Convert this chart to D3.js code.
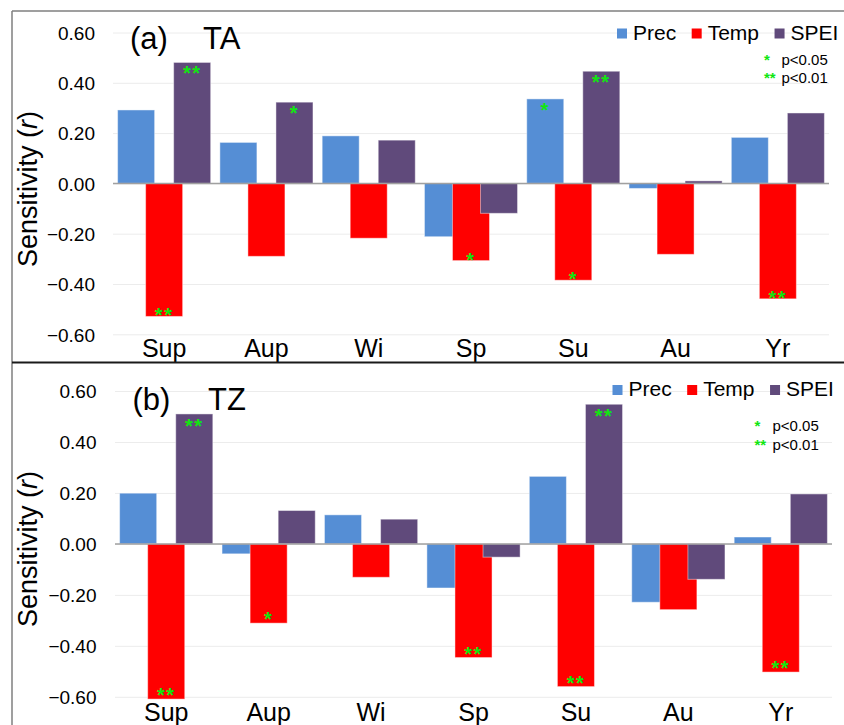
<!DOCTYPE html>
<html>
<head>
<meta charset="utf-8">
<script src="https://cdn.jsdelivr.net/npm/d3@7/dist/d3.min.js"></script>
<style>
  html, body { margin: 0; padding: 0; background: #fff; }
  svg { display: block; font-family: "Liberation Sans", Arial, sans-serif; }
</style>
</head>
<body>
<svg id="chart" width="844" height="725"></svg>
<script>
// ---------------- data ----------------
const categories = ["Sup", "Aup", "Wi", "Sp", "Su", "Au", "Yr"];
const seriesNames = ["Prec", "Temp", "SPEI"];
const seriesColors = ["#558ED5", "#FF0000", "#604A7B"];
const yTicks = [0.6, 0.4, 0.2, 0.0, -0.2, -0.4, -0.6];

// (a) TA
const taPrec = [0.292, 0.163, 0.189, -0.212, 0.336, -0.020, 0.183];
const taTemp = [-0.529, -0.290, -0.218, -0.307, -0.385, -0.282, -0.459];
const taSpei = [0.481, 0.323, 0.172, -0.119, 0.446, 0.010, 0.280];
const taPrecSig = ["", "", "", "", "*", "", ""];
const taTempSig = ["**", "", "", "*", "*", "", "**"];
const taSpeiSig = ["**", "*", "", "", "**", "", ""];

// (b) TZ
const tzPrec = [0.199, -0.039, 0.114, -0.173, 0.265, -0.229, 0.027];
const tzTemp = [-0.609, -0.311, -0.131, -0.446, -0.560, -0.258, -0.503];
const tzSpei = [0.510, 0.131, 0.097, -0.052, 0.548, -0.139, 0.196];
const tzPrecSig = ["", "", "", "", "", "", ""];
const tzTempSig = ["**", "*", "", "**", "**", "", "**"];
const tzSpeiSig = ["**", "", "", "", "**", "", ""];

const sigLegend = [["*", "p<0.05"], ["**", "p<0.01"]];

// ---------------- layout ----------------
const svg = d3.select("#chart");
const FONT = '"Liberation Sans", Arial, sans-serif';
const GREEN = "#11e611";

const panels = [
  {
    tag: "(a)", name: "TA",
    series: [taPrec, taTemp, taSpei],
    sig: [taPrecSig, taTempSig, taSpeiSig],
    xRange: [113, 829], yRange: [334.3, 32.5],
    tagX: 130, nameX: 203, titleY: 49,
    catY: 356.5, tickX: 95, axisTitleY: 189,
    legendX: 617, legendY: 39.5,
    sigX: 764, sigTextX: 781.5, sigY: [65, 83],
    starPos: 18, starNeg: 6
  },
  {
    tag: "(b)", name: "TZ",
    series: [tzPrec, tzTemp, tzSpei],
    sig: [tzPrecSig, tzTempSig, tzSpeiSig],
    xRange: [115, 832], yRange: [696.8, 391],
    tagX: 132.5, nameX: 208, titleY: 409.5,
    catY: 721, tickX: 96.5, axisTitleY: 549,
    legendX: 612.5, legendY: 396,
    sigX: 754.5, sigTextX: 772.5, sigY: [431, 450],
    starPos: 19, starNeg: 3
  }
];

// frame
svg.append("line").attr("x1", 12).attr("x2", 12).attr("y1", 11).attr("y2", 725)
  .attr("stroke", "#7f7f7f").attr("stroke-width", 1.5);
svg.append("line").attr("x1", 12).attr("x2", 844).attr("y1", 11).attr("y2", 11)
  .attr("stroke", "#7f7f7f").attr("stroke-width", 1.5);

panels.forEach(p => {
  const g = svg.append("g");
  const x = d3.scaleBand().domain(categories).range(p.xRange).paddingInner(0).paddingOuter(0);
  const y = d3.scaleLinear().domain([-0.6, 0.6]).range(p.yRange);
  const bw = x.bandwidth();
  const barW = bw * 0.362;
  const step = bw * 0.274;
  const groupW = barW + 2 * step;
  const barX = (cat, i) => x(cat) + bw / 2 - groupW / 2 + i * step;

  // gridlines
  const yAxis = d3.axisLeft(y).tickValues(yTicks).tickSize(-(p.xRange[1] - p.xRange[0]))
    .tickFormat(d3.format(".2f"));
  const ax = g.append("g").attr("transform", `translate(${p.xRange[0]},0)`).call(yAxis);
  ax.select(".domain").remove();
  ax.selectAll(".tick line").attr("stroke", "#ececec").attr("stroke-width", 1);
  ax.selectAll(".tick text")
    .attr("x", p.tickX - p.xRange[0]).attr("dy", "0.36em")
    .attr("text-anchor", "end")
    .style("font-family", FONT).style("font-size", "19px").attr("fill", "#000");

  // bars
  p.series.forEach((vals, si) => {
    g.append("g").selectAll("rect").data(categories).join("rect")
      .attr("x", (c) => barX(c, si))
      .attr("width", barW)
      .attr("y", (c, k) => y(Math.max(0, vals[k])))
      .attr("height", (c, k) => Math.abs(y(vals[k]) - y(0)))
      .attr("fill", seriesColors[si])
      .attr("stroke", "#ffffff").attr("stroke-opacity", 0.45).attr("stroke-width", 1);
  });

  // zero line
  g.append("line").attr("x1", p.xRange[0]).attr("x2", p.xRange[1])
    .attr("y1", y(0)).attr("y2", y(0)).attr("stroke", "#a0a0a0").attr("stroke-width", 1.5);

  // significance stars
  p.series.forEach((vals, si) => {
    g.append("g").selectAll("text").data(categories.filter((c, k) => p.sig[si][k] !== ""))
      .join("text")
      .attr("x", c => barX(c, si) + barW / 2)
      .attr("y", c => {
        const k = categories.indexOf(c);
        const v = vals[k];
        return v >= 0 ? y(v) + p.starPos : y(v) + p.starNeg;
      })
      .attr("text-anchor", "middle")
      .attr("fill", GREEN)
      .style("font-family", FONT).style("font-size", "20px").style("font-weight", "bold")
      .style("letter-spacing", "1.5px")
      .text(c => p.sig[si][categories.indexOf(c)]);
  });

  // category labels
  g.append("g").selectAll("text").data(categories).join("text")
    .attr("x", c => x(c) + bw / 2).attr("y", p.catY)
    .attr("text-anchor", "middle")
    .style("font-family", FONT).style("font-size", "25px").attr("fill", "#000")
    .text(c => c);

  // panel title
  g.append("text").attr("x", p.tagX).attr("y", p.titleY)
    .style("font-family", FONT).style("font-size", "31px").text(p.tag);
  g.append("text").attr("x", p.nameX).attr("y", p.titleY)
    .style("font-family", FONT).style("font-size", "31px").text(p.name);

  // y axis title
  const yt = g.append("text")
    .attr("transform", `translate(37,${p.axisTitleY}) rotate(-90)`)
    .attr("text-anchor", "middle")
    .style("font-family", FONT).style("font-size", "27px");
  yt.append("tspan").text("Sensitivity (");
  yt.append("tspan").style("font-style", "italic").text("r");
  yt.append("tspan").text(")");

  // legend
  let lx = p.legendX;
  seriesNames.forEach((n, i) => {
    g.append("rect").attr("x", lx).attr("y", p.legendY - 11).attr("width", 10).attr("height", 10)
      .attr("fill", seriesColors[i]);
    const t = g.append("text").attr("x", lx + 16).attr("y", p.legendY)
      .style("font-family", FONT).style("font-size", "21px").text(n);
    lx = lx + 16 + t.node().getComputedTextLength() + 15.5;
  });

  // significance legend
  sigLegend.forEach((s, i) => {
    g.append("text").attr("x", p.sigX).attr("y", p.sigY[i])
      .attr("fill", GREEN)
      .style("font-family", FONT).style("font-size", "15px").style("font-weight", "bold")
      .text(s[0]);
    g.append("text").attr("x", p.sigTextX).attr("y", p.sigY[i])
      .style("font-family", FONT).style("font-size", "15px").text(s[1]);
  });
});

// divider between panels
svg.append("line").attr("x1", 12).attr("x2", 844).attr("y1", 362.5).attr("y2", 362.5)
  .attr("stroke", "#1a1a1a").attr("stroke-width", 2);
</script>
</body>
</html>
